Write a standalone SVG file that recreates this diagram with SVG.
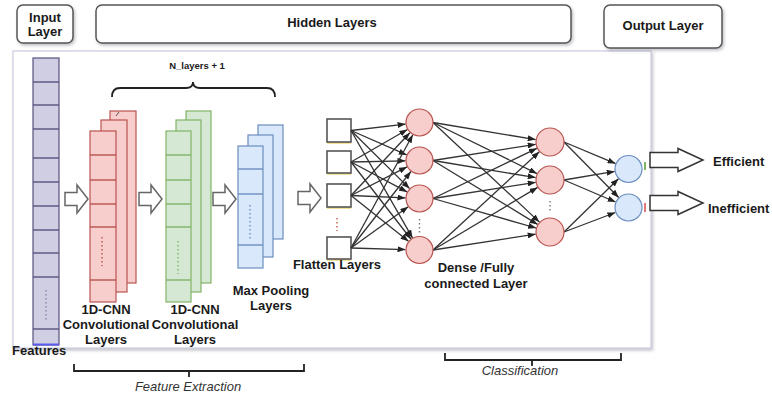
<svg xmlns="http://www.w3.org/2000/svg" width="772" height="403" viewBox="0 0 772 403">
<defs>
<filter id="sh" x="-10%" y="-10%" width="130%" height="140%"><feDropShadow dx="1.5" dy="2" stdDeviation="1.5" flood-color="#556" flood-opacity="0.35"/></filter>
<marker id="ah" markerUnits="userSpaceOnUse" markerWidth="8" markerHeight="6" refX="8" refY="3" orient="auto"><path d="M0,0 L8,3 L0,6 z" fill="#222"/></marker>
<path id="ha" d="M0,-6.5 H12 V-14 L23,0 L12,14 V6.5 H0 Z"/>
<path id="oa" d="M0,-7.5 H28 V-11.5 L53,0 L28,11.5 V7.5 H0 Z"/>
</defs>
<style>
text{font-family:"Liberation Sans",Arial,Helvetica,sans-serif;fill:#1a1a1a}
.b{font-weight:bold;font-size:13px}
.c{text-anchor:middle}
.i{font-style:italic;font-size:13px;fill:#333}
.hdr{fill:#fff;stroke:#555;stroke-width:1.5;filter:url(#sh)}
.pu{fill:#d0cee2;stroke:#56517e;stroke-width:1.2}
.rd{fill:#f8cecc;stroke:#b85450;stroke-width:1.2}
.gr{fill:#d5e8d4;stroke:#82b366;stroke-width:1.2}
.bl{fill:#dae8fc;stroke:#6c8ebf;stroke-width:1.2}
.dv{stroke-width:1.4}
.dot{stroke-dasharray:1.5 2.5;stroke-width:1.4;fill:none}
.ha{fill:#fff;stroke:#666;stroke-width:1.5}
.oa{fill:#fff;stroke:#333;stroke-width:1.5}
.sq{fill:#fff;stroke:#555;stroke-width:1.6}
.sqs{fill:#f2df9a}
.cn line{stroke:#333;stroke-width:1.3;marker-end:url(#ah)}
.br{fill:none;stroke:#222;stroke-width:1.8}
</style>

<!-- main panel -->
<rect id="panel" x="13" y="51" width="638" height="297" fill="#fff" stroke="#c9cbe0" stroke-width="1.2" filter="url(#sh)"/>

<!-- headers -->
<g id="input-header"><rect class="hdr" x="17" y="5" width="56" height="38" rx="6"/><text class="b c" x="45" y="22">Input</text><text class="b c" x="45" y="36">Layer</text></g>
<g id="hidden-header"><rect class="hdr" x="96" y="5" width="475" height="38" rx="6"/><text class="b c" x="332" y="27">Hidden Layers</text></g>
<g id="output-header"><rect class="hdr" x="604" y="5" width="118" height="43" rx="6"/><text class="b c" x="663" y="30">Output Layer</text></g>

<!-- input column -->
<g id="input-features">
<rect class="pu" x="33" y="58" width="26" height="287"/>
<g stroke="#56517e" class="dv">
<line x1="33" y1="82" x2="59" y2="82"/><line x1="33" y1="105" x2="59" y2="105"/><line x1="33" y1="129" x2="59" y2="129"/><line x1="33" y1="158" x2="59" y2="158"/><line x1="33" y1="182" x2="59" y2="182"/><line x1="33" y1="206" x2="59" y2="206"/><line x1="33" y1="230" x2="59" y2="230"/><line x1="33" y1="253" x2="59" y2="253"/><line x1="33" y1="277" x2="59" y2="277"/><line x1="33" y1="329" x2="59" y2="329"/>
</g>
<line x1="33" y1="344.5" x2="59" y2="344.5" stroke="#5a5cf0" stroke-width="2"/>
<line class="dot" x1="46" y1="290" x2="46" y2="322" stroke="#8a86b0"/>
<text class="b" x="12" y="355">Features</text>
</g>

<!-- brace -->
<g id="brace"><path class="br" d="M112,97 Q112,88 120,88 H186 Q193,88 193,82 Q193,88 200,88 H267 Q275,88 275,97"/><text x="197" y="69" font-size="9.5" font-weight="bold" class="c">N_layers + 1</text></g>

<!-- conv red -->
<g id="conv1">
<rect class="rd" x="110" y="111" width="26" height="172"/>
<rect class="rd" x="101" y="120" width="26" height="172"/>
<rect class="rd" x="90" y="131" width="26" height="171"/>
<g stroke="#b85450" class="dv"><line x1="90" y1="155" x2="116" y2="155"/><line x1="90" y1="180" x2="116" y2="180"/><line x1="90" y1="204" x2="116" y2="204"/><line x1="90" y1="227" x2="116" y2="227"/><line x1="90" y1="280" x2="116" y2="280"/></g>
<line class="dot" x1="102" y1="237" x2="102" y2="266" stroke="#b85450"/>
<line x1="116" y1="116" x2="119" y2="112" stroke="#555" stroke-width="1"/>
<text class="b c" x="106" y="314">1D-CNN</text><text class="b c" x="106" y="329">Convolutional</text><text class="b c" x="106" y="344">Layers</text>
</g>

<!-- conv green -->
<g id="conv2">
<rect class="gr" x="186" y="111" width="25" height="172"/>
<rect class="gr" x="176" y="120" width="25" height="172"/>
<rect class="gr" x="166" y="131" width="25" height="171"/>
<g stroke="#82b366" class="dv"><line x1="166" y1="155" x2="191" y2="155"/><line x1="166" y1="180" x2="191" y2="180"/><line x1="166" y1="204" x2="191" y2="204"/><line x1="166" y1="227" x2="191" y2="227"/><line x1="166" y1="280" x2="191" y2="280"/></g>
<line class="dot" x1="178" y1="241" x2="178" y2="274" stroke="#82b366"/>
<text class="b c" x="195" y="314">1D-CNN</text><text class="b c" x="195" y="329">Convolutional</text><text class="b c" x="195" y="344">Layers</text>
</g>

<!-- max pooling -->
<g id="maxpool">
<rect class="bl" x="258" y="125" width="25" height="114"/>
<rect class="bl" x="248" y="135" width="25" height="122"/>
<rect class="bl" x="238" y="146" width="25" height="122"/>
<g stroke="#6c8ebf" class="dv"><line x1="238" y1="169" x2="263" y2="169"/><line x1="238" y1="194" x2="263" y2="194"/><line x1="238" y1="245" x2="263" y2="245"/></g>
<line class="dot" x1="250" y1="205" x2="250" y2="240" stroke="#6c8ebf"/>
<text class="b c" x="271" y="295">Max Pooling</text><text class="b c" x="271" y="310">Layers</text>
</g>

<!-- hollow arrows -->
<g id="step-arrows">
<use href="#ha" class="ha" x="65" y="199"/>
<use href="#ha" class="ha" x="139" y="199"/>
<use href="#ha" class="ha" x="213" y="199"/>
<use href="#ha" class="ha" x="298" y="198"/>
</g>

<!-- flatten -->
<g id="flatten">
<rect class="sqs" x="327" y="121" width="24" height="23"/><rect class="sq" x="327" y="119" width="24" height="23"/>
<rect class="sqs" x="327" y="153" width="24" height="22"/><rect class="sq" x="327" y="151" width="24" height="22"/>
<rect class="sqs" x="327" y="186" width="24" height="23"/><rect class="sq" x="327" y="184" width="24" height="23"/>
<rect class="sqs" x="327" y="239" width="24" height="22"/><rect class="sq" x="327" y="237" width="24" height="22"/>
<line class="dot" x1="337" y1="218" x2="337" y2="231" stroke="#c0604a"/>
<text class="b c" x="337" y="269">Flatten Layers</text>
</g>

<!-- connectors -->
<g id="connectors" class="cn">
<line x1="351" y1="130.5" x2="405.6" y2="124.1"/><line x1="351" y1="130.5" x2="406.7" y2="154.9"/><line x1="351" y1="130.5" x2="409.6" y2="188.6"/><line x1="351" y1="130.5" x2="412.5" y2="237.9"/>
<line x1="351" y1="162" x2="407.4" y2="129.5"/><line x1="351" y1="162" x2="405.5" y2="160.8"/><line x1="351" y1="162" x2="407.1" y2="191.9"/><line x1="351" y1="162" x2="410.9" y2="239"/>
<line x1="351" y1="195.5" x2="409.9" y2="132.7"/><line x1="351" y1="195.5" x2="407" y2="166.9"/><line x1="351" y1="195.5" x2="405.5" y2="197.9"/><line x1="351" y1="195.5" x2="408.5" y2="241.3"/>
<line x1="351" y1="248" x2="412.8" y2="134.8"/><line x1="351" y1="248" x2="410.9" y2="171.5"/><line x1="351" y1="248" x2="408.2" y2="206.7"/><line x1="351" y1="248" x2="405.5" y2="249.6"/>
<line x1="433" y1="122.5" x2="535.7" y2="139.6"/><line x1="433" y1="122.5" x2="537" y2="173.6"/><line x1="433" y1="122.5" x2="539.4" y2="222.1"/>
<line x1="433" y1="160.5" x2="535.7" y2="144.3"/><line x1="433" y1="160.5" x2="535.7" y2="177.6"/><line x1="433" y1="160.5" x2="537.6" y2="224.4"/>
<line x1="433" y1="198.5" x2="536.9" y2="148.3"/><line x1="433" y1="198.5" x2="535.7" y2="182.3"/><line x1="433" y1="198.5" x2="536.1" y2="228"/>
<line x1="433" y1="250" x2="539.3" y2="151.8"/><line x1="433" y1="250" x2="537.6" y2="187.4"/><line x1="433" y1="250" x2="535.7" y2="234.2"/>
<line x1="564" y1="142" x2="615.6" y2="163.6"/><line x1="564" y1="142" x2="618.7" y2="197.5"/>
<line x1="564" y1="180" x2="614.7" y2="171.4"/><line x1="564" y1="180" x2="615.6" y2="202"/>
<line x1="564" y1="232" x2="618.5" y2="178.8"/><line x1="564" y1="232" x2="615.4" y2="212.5"/>
</g>

<!-- dense 1 -->
<g id="dense1">
<circle class="rd" cx="419.5" cy="122.5" r="13.5"/><circle class="rd" cx="419.5" cy="160.5" r="13.5"/><circle class="rd" cx="419.5" cy="198.5" r="13.5"/><circle class="rd" cx="419.5" cy="250" r="13.5"/>
<line class="dot" x1="419.5" y1="219" x2="419.5" y2="233" stroke="#777"/>
<text class="b c" x="476" y="272">Dense /Fully</text><text class="b c" x="476" y="288">connected Layer</text>
</g>

<!-- dense 2 -->
<g id="dense2">
<circle class="rd" cx="550" cy="142" r="14"/><circle class="rd" cx="550" cy="180" r="14"/><circle class="rd" cx="550" cy="232" r="14"/>
<line class="dot" x1="550" y1="201" x2="550" y2="213" stroke="#777"/>
</g>

<!-- output -->
<g id="output">
<circle class="bl" cx="628.5" cy="169" r="13.5"/><circle class="bl" cx="628.5" cy="207.5" r="13.5"/>
<rect x="644" y="162" width="2" height="8" fill="#82b366"/><rect x="644" y="203" width="2" height="9" fill="#e07a7a"/>
</g>
<g id="out-efficient"><use href="#oa" class="oa" x="650" y="160"/><text class="b" x="713" y="166">Efficient</text></g>
<g id="out-inefficient"><use href="#oa" class="oa" x="650" y="203"/><text class="b" x="708" y="212.5">Inefficient</text></g>

<!-- bottom brackets -->
<g id="feature-extraction"><path class="br" d="M74,364 V371 H304 V364 M189,371 V377"/><text class="i c" x="188" y="391">Feature Extraction</text></g>
<g id="classification"><path class="br" d="M445,353 V360 H621 V353 M532,360 V366"/><text class="i c" x="520" y="375">Classification</text></g>
</svg>
